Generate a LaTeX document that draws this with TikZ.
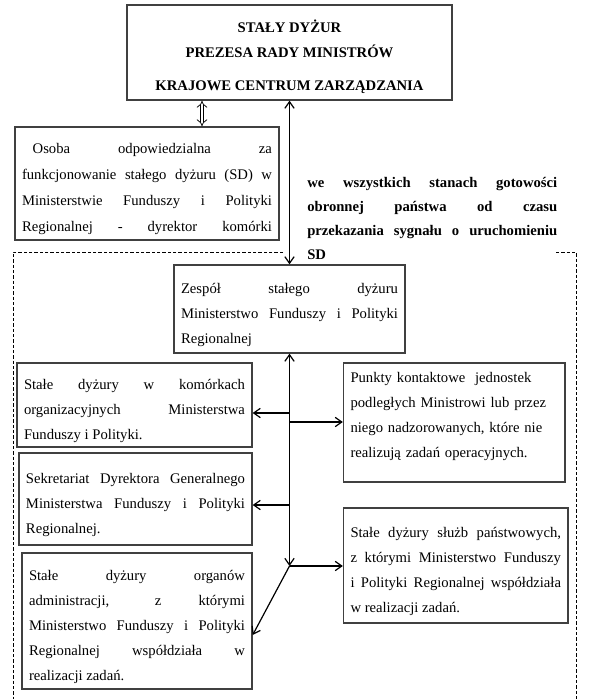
\documentclass[tikz,border=0pt]{standalone}
\usepackage{fontspec}
\setmainfont{Liberation Serif}
\usetikzlibrary{arrows.meta, calc}
\tolerance=10000
\hbadness=10000

\tikzset{
  box/.style={draw=black!75, line width=1pt, inner xsep=5.25pt, inner ysep=2pt,
    align=justify, font=\fontsize{11pt}{18.75pt}\selectfont},
  pad/.style={execute at begin node={\rule{0pt}{16.5pt}}},
  link/.style={line width=0.9pt},
  hollow/.style={double, double distance=2.2pt, line width=0.55pt, {Implies[scale=0.6]}-{Implies[scale=0.6]}},
  frame/.style={line width=0.75pt, dash pattern=on 2.5pt off 1.5pt},
}

\begin{document}
\begin{tikzpicture}[x=0.75pt, y=-0.75pt, >={Straight Barb[length=5pt,width=7pt]}]
    \clip (0,0) rectangle (597,699);

    % Frame
    \draw[frame] (283,252) -- (13,252) -- (13,710);
    \draw[frame] (556,252) -- (576,252) -- (576,710);

    % Top
    \node[box, align=center, font=\fontsize{11pt}{18.75pt}\selectfont\bfseries,
      minimum width=243.75pt, minimum height=71.25pt] (kcz) at (289.5,52.5)
      {\rule{0pt}{16.5pt}STAŁY DYŻUR\\PREZESA RADY MINISTRÓW\\[6pt]KRAJOWE CENTRUM ZARZĄDZANIA};

    \node[box, pad, font=\fontsize{11pt}{19.5pt}\selectfont, text width=187.5pt,
      minimum height=84.75pt] (osoba) at (147,183.5)
      {\hspace*{8pt}Osoba odpowiedzialna za\linebreak
       funkcjonowanie stałego dyżuru (SD) w\linebreak
       Ministerstwie Funduszy i Polityki\linebreak
       \makebox[\linewidth][s]{Regionalnej - dyrektor komórki}};

    \node[font=\fontsize{11pt}{18pt}\selectfont\bfseries, text width=187.5pt,
      align=justify, inner sep=0pt, anchor=base west] (stany) at (307,187)
      {we wszystkich stanach gotowości\linebreak
       obronnej państwa od czasu\linebreak
       przekazania sygnału o uruchomieniu\linebreak
       SD};

    % Team
    \node[box, pad, text width=162.75pt, minimum height=66pt] (zespol) at (289.5,309)
      {Zespół stałego dyżuru\linebreak
       Ministerstwo Funduszy i Polityki\linebreak
       Regionalnej};

    % Left
    \node[box, pad, text width=165.75pt, minimum height=63pt] (komorki) at (134.5,405)
      {Stałe dyżury w komórkach\linebreak
       organizacyjnych Ministerstwa\linebreak
       Funduszy i Polityki.};
    \node[box, pad, text width=164.25pt, minimum height=69pt] (sekretariat) at (135.5,499)
      {Sekretariat Dyrektora Generalnego\linebreak
       Ministerstwa Funduszy i Polityki\linebreak
       Regionalnej.};
    \node[box, pad, text width=162pt, minimum height=102pt] (organy) at (137,621)
      {Stałe dyżury organów\linebreak
       administracji, z którymi\linebreak
       Ministerstwo Funduszy i Polityki\linebreak
       Regionalnej współdziała w\linebreak
       realizacji zadań.};

    % Right
    \node[box, align=left, text width=155.625pt, minimum height=89.25pt] (punkty) at (454.25,422.5)
      {Punkty kontaktowe\ \ jednostek\\
       podległych Ministrowi lub przez\\
       niego nadzorowanych, które nie\\
       realizują zadań operacyjnych.\rule[-12pt]{0pt}{12pt}};
    \node[box, pad, text width=157.875pt, minimum height=86.25pt] (sluzby) at (455.75,565.5)
      {Stałe dyżury służb państwowych,\linebreak
       z którymi Ministerstwo Funduszy\linebreak
       i Polityki Regionalnej współdziała\linebreak
       w realizacji zadań.};

    % Links
    \draw[hollow] ([xshift=41.25pt]osoba.north) -- ([xshift=41.25pt]osoba.north |- kcz.south);
    \draw[link, <->] (kcz.south) -- (kcz.south |- zespol.north);

    \coordinate (b1) at (289.5,413);
    \coordinate (b2) at (289.5,422);
    \coordinate (b3) at (289.5,505);
    \coordinate (split) at (289.5,566);
    \draw[link, <->] (zespol.south) -- (split);
    \draw[link, ->] (b1) -- (b1 -| komorki.east);
    \draw[link, ->] (b2) -- (b2 -| punkty.west);
    \draw[link, ->] (b3) -- (b3 -| sekretariat.east);
    \draw[link, ->] (split) -- (split -| sluzby.west);
    \draw[link, ->] (split) -- ([yshift=-10.5pt]organy.east);
\end{tikzpicture}
\end{document}
